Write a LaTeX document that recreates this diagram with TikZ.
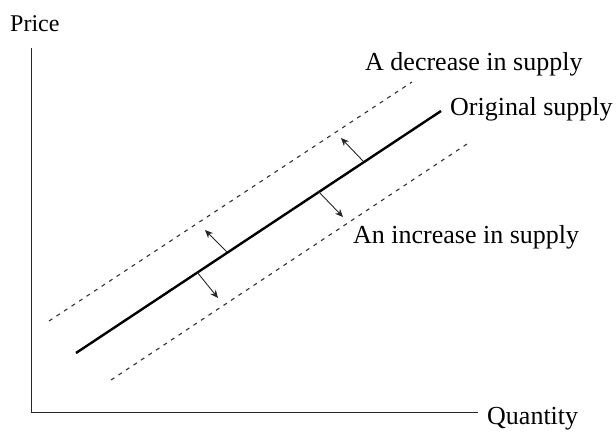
\documentclass[tikz,border=0pt]{standalone}
\usepackage{fontspec}
\setmainfont{Liberation Serif}
\usetikzlibrary{arrows.meta}
\tikzset{
  axisline/.style={line width=1pt, black!85},
  supplyline/.style={line width=2.4pt, black},
  shiftline/.style={line width=1.1pt, black!80, dash pattern=on 4pt off 5pt},
  shiftarrow/.style={line width=0.9pt, black!85, -{Stealth[length=8pt,width=7pt]}},
  lbl/.style={inner sep=0pt, anchor=base west, font=\fontsize{26}{30}\selectfont}
}
\begin{document}
\begin{tikzpicture}[x=1pt,y=-1pt]
\useasboundingbox (0,0) rectangle (616,434);
% axes
\coordinate (O) at (31,412);
\coordinate (Ytop) at (31,48);
\coordinate (Xend) at (478,412);
\draw[axisline] (Ytop) -- (O) -- (Xend);
\node[lbl, font=\fontsize{24}{28}\selectfont] (price) at (10,31) {Price};
\node[lbl] (qty) at (487,424) {Quantity};
% curves
\coordinate (s1) at (76,353);
\coordinate (s2) at (441,111);
\coordinate (d1) at (49,321);
\coordinate (d2) at (412,82);
\coordinate (i1) at (111,380);
\coordinate (i2) at (470,142);
\draw[shiftline] (d1) -- (d2);
\draw[shiftline] (i1) -- (i2);
\draw[supplyline] (s1) -- (s2);
% labels
\node[lbl] (dec) at (365,70) {A decrease in supply};
\node[lbl] (orig) at (450,115) {Original supply};
\node[lbl] (inc) at (353,243) {An increase in supply};
% arrows
\coordinate (a1s) at (227,252);
\coordinate (a1e) at (205,230);
\coordinate (a2s) at (197,272);
\coordinate (a2e) at (218,298);
\coordinate (a3s) at (318,191);
\coordinate (a3e) at (343,217);
\coordinate (a4s) at (363,161);
\coordinate (a4e) at (341,138);
\draw[shiftarrow] (a1s) -- (a1e);
\draw[shiftarrow] (a2s) -- (a2e);
\draw[shiftarrow] (a3s) -- (a3e);
\draw[shiftarrow] (a4s) -- (a4e);
\end{tikzpicture}
\end{document}
